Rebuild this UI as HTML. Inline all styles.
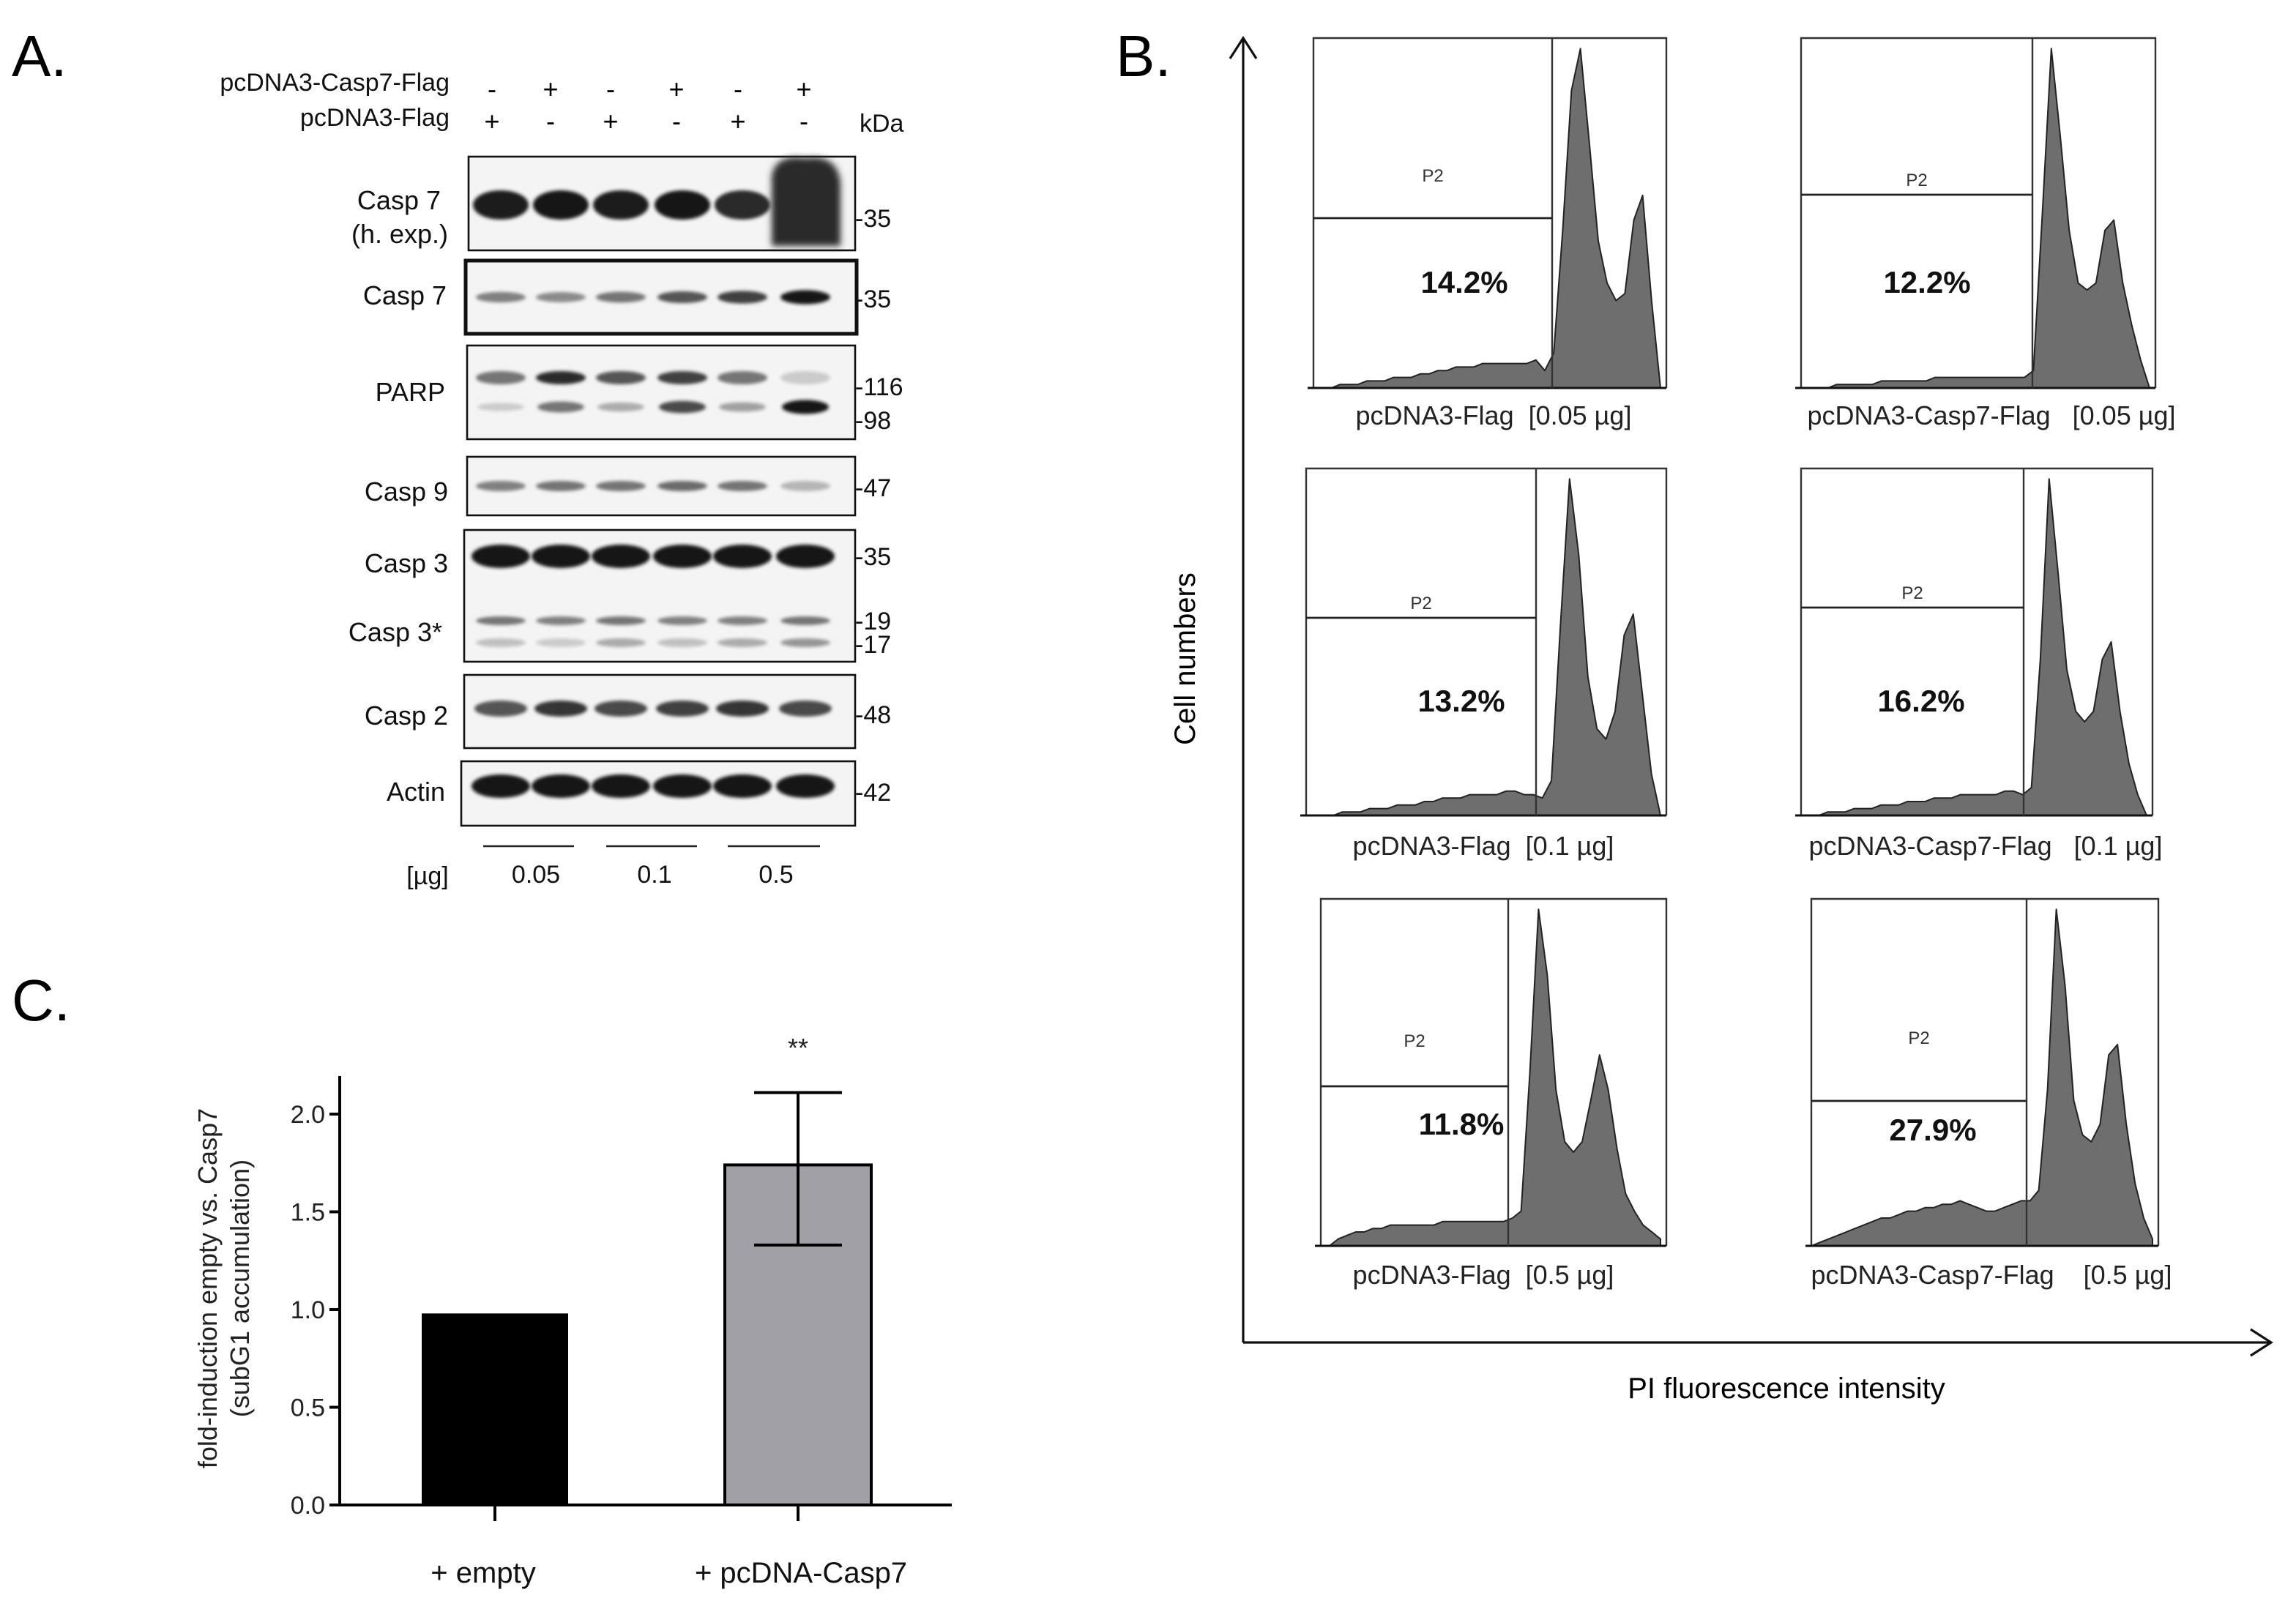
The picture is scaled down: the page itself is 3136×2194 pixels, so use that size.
<!DOCTYPE html>
<html><head><meta charset="utf-8"><style>
html,body{margin:0;padding:0;background:#fff}
svg{display:block;font-family:"Liberation Sans",sans-serif}
.pre{white-space:pre}
</style></head><body>
<svg id="fig" width="3136" height="2194" viewBox="0 0 1568 1097" xmlns="http://www.w3.org/2000/svg">
<defs>
<filter id="blur" x="-20%" y="-50%" width="140%" height="200%"><feGaussianBlur stdDeviation="2.2"/></filter>
<filter id="blur2" x="-20%" y="-50%" width="140%" height="200%"><feGaussianBlur stdDeviation="1.2"/></filter>
</defs>
<!-- Panel A -->
<text x="8" y="52" font-size="40">A.</text>
<g font-size="17" fill="#111">
<text x="307" y="62" text-anchor="end">pcDNA3-Casp7-Flag</text>
<text x="307" y="86" text-anchor="end">pcDNA3-Flag</text>
<text x="587" y="90">kDa</text>
</g>
<g id="signs" font-size="18" text-anchor="middle"></g>
<g id="blots"></g>
<g font-size="18" fill="#111" text-anchor="end">
<text x="301" y="143">Casp 7</text>
<text x="306" y="166">(h. exp.)</text>
<text x="305" y="208">Casp 7</text>
<text x="304" y="274">PARP</text>
<text x="306" y="342">Casp 9</text>
<text x="306" y="391">Casp 3</text>
<text x="302" y="438">Casp 3*</text>
<text x="306" y="495">Casp 2</text>
<text x="304" y="547">Actin</text>
</g>
<g font-size="17" fill="#111">
<text x="584" y="155">-35</text><text x="584" y="210">-35</text>
<text x="584" y="270">-116</text><text x="584" y="293">-98</text>
<text x="584" y="339">-47</text><text x="584" y="386">-35</text>
<text x="584" y="430">-19</text><text x="584" y="446">-17</text>
<text x="584" y="494">-48</text><text x="584" y="547">-42</text>
</g>
<g stroke="#222" stroke-width="1.3">
<line x1="330" y1="578" x2="392" y2="578"/><line x1="414" y1="578" x2="476" y2="578"/><line x1="497" y1="578" x2="560" y2="578"/>
</g>
<g font-size="17" fill="#111" text-anchor="middle">
<text x="292" y="604">[µg]</text><text x="366" y="603">0.05</text><text x="447" y="603">0.1</text><text x="530" y="603">0.5</text>
</g>

<!-- Panel B -->
<text x="762" y="52" font-size="40">B.</text>
<g stroke="#111" stroke-width="1.6" fill="none">
<line x1="849" y1="26" x2="849" y2="917"/><polyline points="840,40 849,26 858,40"/>
<line x1="849" y1="917" x2="1550" y2="917"/><polyline points="1537,908 1551,917 1537,926"/>
</g>
<text transform="translate(816,450) rotate(-90)" font-size="20" text-anchor="middle">Cell numbers</text>
<text x="1220" y="955" font-size="20" text-anchor="middle">PI fluorescence intensity</text>
<g id="hists"></g>

<!-- Panel C -->
<text x="8" y="697" font-size="40">C.</text>
<g id="barchart"></g>
</svg>
<script>
// ---- Panel C data ----
const categories = ["+ empty", "+ pcDNA-Casp7"];
const values = [0.98, 1.74];
const errLow = [null, 1.33];
const errHigh = [null, 2.11];
const yTicks = [0.0, 0.5, 1.0, 1.5, 2.0];
const yTickLabels = ["0.0", "0.5", "1.0", "1.5", "2.0"];
const barColors = ["#000000", "#a0a0a6"];

// ---- Panel B data (histogram heights per bin, fraction of box height) ----
const histTitles = ["pcDNA3-Flag  [0.05 µg]","pcDNA3-Casp7-Flag   [0.05 µg]","pcDNA3-Flag  [0.1 µg]","pcDNA3-Casp7-Flag   [0.1 µg]","pcDNA3-Flag  [0.5 µg]","pcDNA3-Casp7-Flag    [0.5 µg]"];
const histPercents = ["14.2%","12.2%","13.2%","16.2%","11.8%","27.9%"];
const hist1 = [0,0,0,0.01,0.01,0.01,0.02,0.02,0.02,0.03,0.03,0.03,0.04,0.04,0.05,0.05,0.06,0.06,0.06,0.07,0.07,0.07,0.07,0.07,0.07,0.08,0.05,0.1,0.45,0.85,0.97,0.7,0.42,0.3,0.25,0.27,0.48,0.55,0.25,0];
const hist2 = [0,0,0,0,0.01,0.01,0.01,0.01,0.01,0.02,0.02,0.02,0.02,0.02,0.02,0.03,0.03,0.03,0.03,0.03,0.03,0.03,0.03,0.03,0.03,0.03,0.05,0.5,0.97,0.72,0.45,0.3,0.28,0.3,0.45,0.48,0.3,0.18,0.08,0];
const hist3 = [0,0,0,0,0.01,0.01,0.01,0.02,0.02,0.02,0.03,0.03,0.03,0.04,0.04,0.05,0.05,0.05,0.06,0.06,0.06,0.06,0.07,0.07,0.06,0.06,0.05,0.1,0.55,0.97,0.75,0.4,0.25,0.22,0.3,0.52,0.58,0.35,0.12,0];
const hist4 = [0,0,0,0.01,0.01,0.01,0.02,0.02,0.02,0.03,0.03,0.03,0.04,0.04,0.04,0.05,0.05,0.05,0.06,0.06,0.06,0.06,0.06,0.07,0.07,0.06,0.08,0.45,0.97,0.7,0.42,0.3,0.27,0.3,0.45,0.5,0.3,0.15,0.06,0];
const hist5 = [0,0,0.02,0.03,0.04,0.04,0.05,0.05,0.06,0.06,0.06,0.06,0.06,0.06,0.07,0.07,0.07,0.07,0.07,0.07,0.07,0.07,0.08,0.1,0.5,0.97,0.78,0.45,0.3,0.27,0.3,0.42,0.55,0.45,0.28,0.15,0.1,0.06,0.04,0.02];
const hist6 = [0,0.01,0.02,0.03,0.04,0.05,0.06,0.07,0.08,0.08,0.09,0.1,0.1,0.11,0.11,0.12,0.12,0.13,0.12,0.11,0.1,0.1,0.11,0.12,0.13,0.13,0.16,0.45,0.97,0.75,0.42,0.32,0.3,0.35,0.55,0.58,0.35,0.18,0.08,0.02];
const histData = [hist1,hist2,hist3,hist4,hist5,hist6];

// ---- Panel A band intensities (0..1) per lane ----
const casp7hexp = [0.95,1,0.95,1,0.9,1];
const casp7 = [0.5,0.45,0.55,0.7,0.8,1];
const parp116 = [0.55,0.9,0.7,0.8,0.55,0.15];
const parp98 = [0.15,0.55,0.3,0.75,0.35,1];
const casp9 = [0.5,0.55,0.55,0.6,0.55,0.25];
const casp3 = [1,1,1,1,1,1];
const casp3c19 = [0.55,0.5,0.55,0.5,0.5,0.55];
const casp3c17 = [0.2,0.15,0.3,0.2,0.3,0.4];
const casp2 = [0.7,0.85,0.75,0.8,0.85,0.75];
const actin = [1,1,1,1,1,1];
const row1Signs = ["-","+","-","+","-","+"];
const row2Signs = ["+","-","+","-","+","-"];

const NS = "http://www.w3.org/2000/svg";
function mk(tag, attrs, parent){ const e=document.createElementNS(NS,tag); for(const k in attrs) e.setAttribute(k,attrs[k]); if(parent) parent.appendChild(e); return e; }

// Signs
const signs = document.getElementById('signs');
const laneX = [336,376,417,462,504,549];
row1Signs.forEach((s,i)=>{ const t=mk('text',{x:laneX[i],y:67},signs); t.textContent=s;

 });
row2Signs.forEach((s,i)=>{ const t=mk('text',{x:laneX[i],y:89},signs); t.textContent=s;

 });

// Blots
const blots = document.getElementById('blots');
const bandLane = [342,383,424,466,507,550];
function blot(name,x1,y1,x2,y2,sw,bands){
  const g=mk('g',{},blots);
  
  
  mk('rect',{x:x1,y:y1,width:x2-x1,height:y2-y1,fill:'#f4f4f4'},g);
  bands.forEach(b=>{
    b.vals.forEach((v,i)=>{
      const c=Math.round(235-215*v);
      const e=mk('ellipse',{cx:bandLane[i],cy:b.y,rx:b.rx,ry:b.ry*(b.grow?(0.6+0.6*v):1),fill:`rgb(${c},${c},${c})`,filter:'url(#blur2)'},g);
      
      
    });
  });
  mk('rect',{x:x1,y:y1,width:x2-x1,height:y2-y1,fill:'none',stroke:'#111','stroke-width':sw},g);
}
blot('blot-casp7-hexp',320,107,584,171,1.3,[{y:140,rx:19,ry:10,vals:casp7hexp}]);
blot('blot-casp7',318,178,585,228,2.5,[{y:203,rx:17,ry:4,vals:casp7,grow:true}]);
blot('blot-parp',319,236,584,300,1.3,[{y:258,rx:17,ry:4.5,vals:parp116},{y:278,rx:16,ry:4,vals:parp98,grow:true}]);
blot('blot-casp9',319,312,584,352,1.3,[{y:332,rx:17,ry:3.5,vals:casp9}]);
blot('blot-casp3',317,362,584,452,1.3,[{y:380,rx:20,ry:8,vals:casp3},{y:424,rx:17,ry:3,vals:casp3c19},{y:439,rx:17,ry:3,vals:casp3c17}]);
blot('blot-casp2',317,461,584,511,1.3,[{y:484,rx:18,ry:5.5,vals:casp2}]);
blot('blot-actin',315,520,584,564,1.3,[{y:537,rx:20,ry:8,vals:actin}]);
const smear = mk('path',{d:'M527,120 Q530,105 550,108 Q572,105 574,125 L574,168 L527,168 Z',fill:'#2a2a2a',filter:'url(#blur)'},blots);



// Histograms
const hists = document.getElementById('hists');
const boxes = [
 {x1:897,y1:26,x2:1138,y2:265,gate:1060,hl:149,p2y:124,px:1000,py:200,lx:1020,ly:290},
 {x1:1230,y1:26,x2:1472,y2:265,gate:1388,hl:133,p2y:127,px:1316,py:200,lx:1360,ly:290},
 {x1:892,y1:320,x2:1138,y2:557,gate:1049,hl:422,p2y:416,px:998,py:486,lx:1013,ly:584},
 {x1:1230,y1:320,x2:1470,y2:557,gate:1382,hl:415,p2y:409,px:1312,py:486,lx:1356,ly:584},
 {x1:902,y1:614,x2:1138,y2:851,gate:1030,hl:742,p2y:715,px:998,py:775,lx:1013,ly:877},
 {x1:1237,y1:614,x2:1474,y2:851,gate:1384,hl:752,p2y:713,px:1320,py:779,lx:1360,ly:877}
];
boxes.forEach((b,k)=>{
  const g=mk('g',{},hists);
  
  
  const d=histData[k], n=d.length, w=(b.x2-b.x1-4), h=b.y2-b.y1;
  const xs=i=>b.x1+i*w/(n-1), ys=v=>b.y2-v*h;
  let pts=`${b.x1},${b.y2} `+d.map((v,i)=>`${xs(i).toFixed(1)},${ys(v).toFixed(1)}`).join(' ')+` ${xs(n-1)},${b.y2}`;
  const poly=mk('polygon',{points:pts,fill:'#6e6e6e',stroke:'#222','stroke-width':1,'stroke-linejoin':'round'},g);
  
  
  mk('polyline',{points:`${b.x1},${b.y2} ${b.x1},${b.y1} ${b.x2},${b.y1} ${b.x2},${b.y2}`,fill:'none',stroke:'#333','stroke-width':1.2},g);
  mk('line',{x1:b.x1-4,y1:b.y2,x2:b.x2,y2:b.y2,stroke:'#111','stroke-width':1.5},g);
  mk('line',{x1:b.gate,y1:b.y1,x2:b.gate,y2:b.y2,stroke:'#333','stroke-width':1.2},g);
  mk('line',{x1:b.x1,y1:b.hl,x2:b.gate,y2:b.hl,stroke:'#222','stroke-width':1.4},g);
  const p2=mk('text',{x:(b.x1+b.gate)/2,y:b.p2y,'font-size':12,'text-anchor':'middle',fill:'#333'},g); p2.textContent='P2';
  
  
  const pc=mk('text',{x:b.px,y:b.py,'font-size':21,'font-weight':'bold','text-anchor':'middle',fill:'#111'},g); pc.textContent=histPercents[k];
  
  
  const tt=mk('text',{x:b.lx,y:b.ly,'font-size':18,'text-anchor':'middle',fill:'#222','class':'pre'},g); tt.textContent=histTitles[k];
  
  
});

// Bar chart
const bc=document.getElementById('barchart');
const X0=232, Y0=1028, Ypx=133.5;
const yS=v=>Y0-v*Ypx;
const barX=[338,545], barW=100;
mk('line',{x1:X0,y1:735,x2:X0,y2:Y0+1,stroke:'#000','stroke-width':2},bc);
mk('line',{x1:X0,y1:Y0,x2:650,y2:Y0,stroke:'#000','stroke-width':2},bc);
yTicks.forEach((t,i)=>{
  mk('line',{x1:X0-7,y1:yS(t),x2:X0,y2:yS(t),stroke:'#000','stroke-width':2},bc);
  const tx=mk('text',{x:X0-10,y:yS(t)+6,'font-size':17,'text-anchor':'end',fill:'#222'},bc); tx.textContent=yTickLabels[i];
  
  
});
categories.forEach((c,i)=>{
  const r=mk('rect',{x:barX[i]-barW/2,y:yS(values[i]),width:barW,height:Y0-yS(values[i]),fill:barColors[i],stroke:'#000','stroke-width':i?2:0},bc);
  
  
  mk('line',{x1:barX[i],y1:Y0,x2:barX[i],y2:Y0+11,stroke:'#000','stroke-width':2},bc);
  const t=mk('text',{x:barX[i]-(i?-2:8),y:1081,'font-size':20,'text-anchor':'middle',fill:'#111'},bc); t.textContent=c;
  
  
  if(errHigh[i]!=null){
    const eg=mk('g',{stroke:'#000','stroke-width':2},bc);
    
    
    mk('line',{x1:barX[i],y1:yS(errHigh[i]),x2:barX[i],y2:yS(errLow[i])},eg);
    mk('line',{x1:barX[i]-30,y1:yS(errHigh[i]),x2:barX[i]+30,y2:yS(errHigh[i])},eg);
    mk('line',{x1:barX[i]-30,y1:yS(errLow[i]),x2:barX[i]+30,y2:yS(errLow[i])},eg);
  }
});
const st=mk('text',{x:545,y:722,'font-size':18,'text-anchor':'middle',fill:'#222'},bc); st.textContent='**';


const yt=mk('text',{transform:'translate(148,880) rotate(-90)','font-size':18,'text-anchor':'middle',fill:'#222'},bc); yt.textContent='fold-induction empty vs. Casp7';


const yt2=mk('text',{transform:'translate(170,880) rotate(-90)','font-size':18,'text-anchor':'middle',fill:'#222'},bc); yt2.textContent='(subG1 accumulation)';


</script>
</body></html>
